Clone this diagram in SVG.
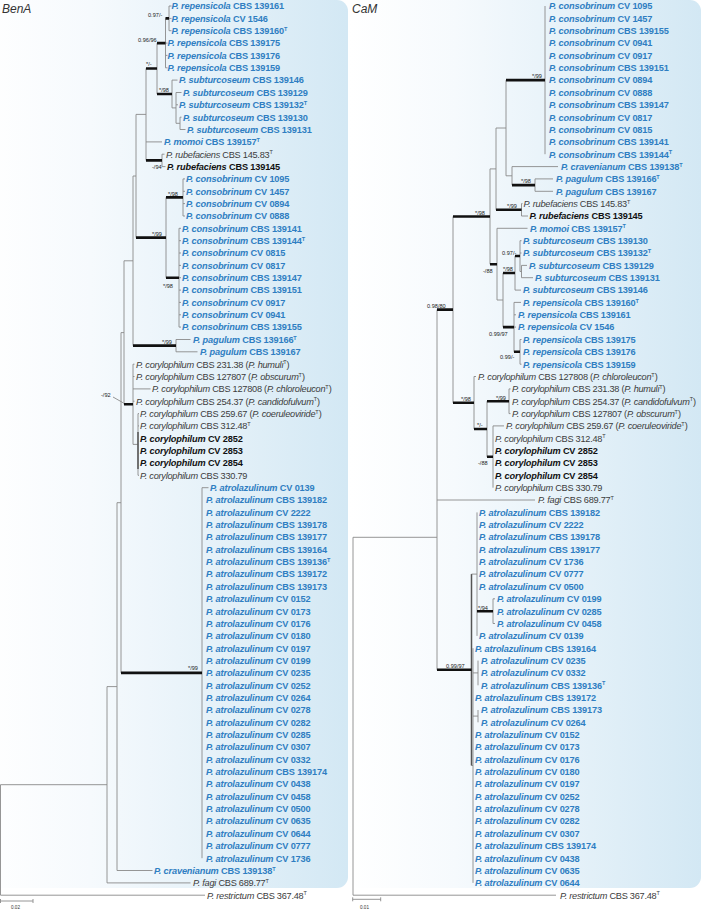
<svg xmlns="http://www.w3.org/2000/svg" width="701" height="909" viewBox="0 0 701 909">
<style>
text{font-family:"Liberation Sans",Arial,sans-serif;font-size:9.2px}
.b{font-weight:bold;fill:#2f7ec2;letter-spacing:-0.15px}
.k{font-weight:bold;fill:#111;letter-spacing:-0.15px}
.r{fill:#3c3c3c;letter-spacing:-0.25px}
.i{font-style:italic}
.t{font-size:5.5px;letter-spacing:0}
.sl{font-size:5.6px;fill:#222}
.ttl{font-size:12px;font-style:italic;fill:#333}
.sc{font-size:4.6px;fill:#333}
.ln{fill:none;stroke:#8a8a8a;stroke-width:0.9}
.dk{fill:none;stroke:#555;stroke-width:1.5}
.tk{fill:none;stroke:#111;stroke-width:2.6}
</style>
<defs>
<linearGradient id="bg" x1="0" y1="0" x2="1" y2="0">
<stop offset="0" stop-color="#ffffff"/>
<stop offset="0.3" stop-color="#f6fafd"/>
<stop offset="1" stop-color="#d3e8f4"/>
</linearGradient>
</defs>
<g id="panels">
<rect x="-20" y="0" width="368" height="888" rx="11" fill="url(#bg)"/>
<rect x="349" y="0" width="352" height="888" rx="11" fill="url(#bg)"/>
</g>
<text class="ttl" x="2" y="13">BenA</text>
<text class="ttl" x="352" y="13">CaM</text>

<g id="connectors-BenA">
<path class="ln" d="M169 6V30.7M169 6H171.5M169 18.4H171.5M169 30.7H171.5M165.5 18.4V67.8M165.5 43.1H167.5M165.5 55.4H167.5M165.5 67.8H167.5M172 80.1V107.9M172 80.1H177.5M172 107.9H176M176 92.5V123.3M176 92.5H181.5M176 104.8H178M176 123.3H180M180 117.2V129.5M180 117.2H181.5M180 129.5H185.5M157 43.1V94M146 68.5V160.4M146 141.9H162M162 154.2V166.6M162 154.2H164.5M162 166.6H165.5M136 114.4H146M183 178.9V216M183 178.9H185M183 191.3H185M183 203.6H185M183 216H185M179 228.3V327.1M179 228.3H181M179 240.7H181M179 253H181M179 265.4H181M179 277.7H181M179 290.1H181M179 302.4H181M179 314.8H181M179 327.1H181M166 197.4V277.7M136 114.4V237.6M133 176H136M176 339.5V351.8M176 339.5H190.5M176 351.8H197.5M133 176V345.6M124 260.8H133M133 364.2V444.4M133 364.2H134.5M133 376.5H134.5M133 388.9H150.5M133 401.2H134.5M133 444.4H138M138 413.6V475.3M138 413.6H139M138 425.9H139M138 475.3H139M124 260.8V404.3M121 332.6H124M121 332.6V672.9M117 502.7H121M202 487.7V858.2M202 487.7H208.5M117 502.7V870.5M117 870.5H152.5M107 686.6H117M107 686.6V882.9M107 882.9H190.5M0.5 784.7H107M0.5 784.7V895.2M0.5 895.2H205"/>
<path class="dk" d="M138 432V469"/>
<path class="tk" d="M165.5 18.4H169M157 43.1H165.5M157 94H172M146 68.5H157M146 160.4H162M166 197.4H183M166 277.7H179M136 237.6H166M133 345.6H176M124 404.3H133M121 672.9H202"/>
<path class="ln" d="M113 397L123.5 403"/>
<path class="ln" d="M0.5 901H33M0.5 899V903M33 899V903"/>
</g>

<g id="connectors-CaM">
<path class="ln" d="M545 6V154.2M512 166.6V185.1M512 166.6H558M506 175.8H512M535 178.9V191.3M535 178.9H553M535 191.3H553M506 80.1V175.8M496 128H506M521.5 203.6V216M521.5 203.6H522.5M521.5 216H528M496 128V209.8M490 168.9H496M497 228.3V300M497 228.3H527.5M497 300H503M503 273V327.1M515 256V290.1M515 290.1H521M520 240.7V271.5M520 240.7H521.5M520 253H521.5M520 271.5H521.5M521.5 265.4V277.7M521.5 265.4H527M521.5 277.7H533M514 302.4V351.8M514 302.4H521M514 314.8H516M514 327.1H516M520 339.5V364.2M520 339.5H521.5M520 364.2H521.5M490 168.9V264.2M474 376.5V429M474 376.5H476M487 401.2V456.8M509 388.9V413.6M509 388.9H510.5M509 413.6H510.5M493 425.9V487.7M493 425.9H504M453 216.5V402.8M437 309.6V669.8M437 500H535M353 537.3H437M353 537.3V895.2M353 895.2H556M477 512.4V635.9M471.5 574.1H477M493 598.8V623.5M493 598.8H495M493 623.5H495M473 648.2V882.9M471.5 765.5H473M478 660.6V685.3M473 672.9H478M478 710V722.3M473 716.1H478"/>
<path class="dk" d="M471.5 574.1V765.5"/>
<path class="tk" d="M506 80.1H545M512 185.1H535M496 209.8H521.5M515 256H520M503 273H515M514 351.8H520M503 327.1H514M490 264.2H497M453 216.5H490M487 401.2H509M487 456.8H493M474 429H487M453 402.8H474M437 309.6H453M477 611.2H493M437 669.8H471.5"/>
<path class="ln" d="M352.7 899.3H380.7M352.7 897.3V901.3M380.7 897.3V901.3"/>
</g>

<g id="scale-labels">
<text class="sc" x="11" y="908.5">0.02</text>
<text class="sc" x="360" y="908.5">0.01</text>
</g>

<g id="support-BenA">
<g id="s-b1"><text class="sl" x="148" y="17">0.97/-</text></g>
<g id="s-b2"><text class="sl" x="138" y="41.5">0.96/96</text></g>
<g id="s-b3"><text class="sl" x="146" y="66">*/-</text></g>
<g id="s-b4"><text class="sl" x="159" y="92">*/98</text></g>
<g id="s-b5"><text class="sl" x="152" y="169">-/94</text></g>
<g id="s-b6"><text class="sl" x="168" y="196">*/98</text></g>
<g id="s-b7"><text class="sl" x="152" y="236">*/99</text></g>
<g id="s-b8"><text class="sl" x="163" y="288">*/98</text></g>
<g id="s-b9"><text class="sl" x="162" y="344">*/99</text></g>
<g id="s-b10"><text class="sl" x="101" y="397">-/92</text></g>
<g id="s-b11"><text class="sl" x="188" y="670">*/99</text></g>
</g>

<g id="support-CaM">
<g id="s-c1"><text class="sl" x="532" y="78">*/99</text></g>
<g id="s-c2"><text class="sl" x="521" y="183">*/98</text></g>
<g id="s-c3"><text class="sl" x="507" y="207.5">*/99</text></g>
<g id="s-c4"><text class="sl" x="475" y="214.5">*/98</text></g>
<g id="s-c5"><text class="sl" x="502" y="254.5">0.97/-</text></g>
<g id="s-c6"><text class="sl" x="503" y="271">*/98</text></g>
<g id="s-c7"><text class="sl" x="483" y="273">-/88</text></g>
<g id="s-c8"><text class="sl" x="427" y="308">0.98/80</text></g>
<g id="s-c9"><text class="sl" x="489" y="336">0.99/97</text></g>
<g id="s-c10"><text class="sl" x="500" y="359">0.99/-</text></g>
<g id="s-c11"><text class="sl" x="461" y="400.5">*/98</text></g>
<g id="s-c12"><text class="sl" x="496" y="399.5">*/99</text></g>
<g id="s-c13"><text class="sl" x="477" y="427">*/-</text></g>
<g id="s-c14"><text class="sl" x="478" y="465">-/88</text></g>
<g id="s-c15"><text class="sl" x="478" y="609.5">*/94</text></g>
<g id="s-c16"><text class="sl" x="446" y="667.5">0.99/97</text></g>
</g>

<g id="taxa-BenA">
<g id="b1"><text class="b" x="171.5" y="9.3"><tspan class="i">P. repensicola</tspan> CBS 139161</text></g>
<g id="b2"><text class="b" x="171.5" y="21.7"><tspan class="i">P. repensicola</tspan> CV 1546</text></g>
<g id="b3"><text class="b" x="171.5" y="34"><tspan class="i">P. repensicola</tspan> CBS 139160<tspan class="t" dy="-3.2">T</tspan></text></g>
<g id="b4"><text class="b" x="167.5" y="46.4"><tspan class="i">P. repensicola</tspan> CBS 139175</text></g>
<g id="b5"><text class="b" x="167.5" y="58.7"><tspan class="i">P. repensicola</tspan> CBS 139176</text></g>
<g id="b6"><text class="b" x="167.5" y="71.1"><tspan class="i">P. repensicola</tspan> CBS 139159</text></g>
<g id="b7"><text class="b" x="179" y="83.4"><tspan class="i">P. subturcoseum</tspan> CBS 139146</text></g>
<g id="b8"><text class="b" x="183" y="95.8"><tspan class="i">P. subturcoseum</tspan> CBS 139129</text></g>
<g id="b9"><text class="b" x="179" y="108.1"><tspan class="i">P. subturcoseum</tspan> CBS 139132<tspan class="t" dy="-3.2">T</tspan></text></g>
<g id="b10"><text class="b" x="183" y="120.5"><tspan class="i">P. subturcoseum</tspan> CBS 139130</text></g>
<g id="b11"><text class="b" x="187" y="132.8"><tspan class="i">P. subturcoseum</tspan> CBS 139131</text></g>
<g id="b12"><text class="b" x="164" y="145.2"><tspan class="i">P. momoi</tspan> CBS 139157<tspan class="t" dy="-3.2">T</tspan></text></g>
<g id="b13"><text class="r" x="166" y="157.5"><tspan class="i">P. rubefaciens</tspan> CBS 145.83<tspan class="t" dy="-3.2">T</tspan></text></g>
<g id="b14"><text class="k" x="167" y="169.9"><tspan class="i">P. rubefaciens</tspan> CBS 139145</text></g>
<g id="b15"><text class="b" x="186" y="182.2"><tspan class="i">P. consobrinum</tspan> CV 1095</text></g>
<g id="b16"><text class="b" x="186" y="194.6"><tspan class="i">P. consobrinum</tspan> CV 1457</text></g>
<g id="b17"><text class="b" x="186" y="206.9"><tspan class="i">P. consobrinum</tspan> CV 0894</text></g>
<g id="b18"><text class="b" x="186" y="219.3"><tspan class="i">P. consobrinum</tspan> CV 0888</text></g>
<g id="b19"><text class="b" x="182" y="231.6"><tspan class="i">P. consobrinum</tspan> CBS 139141</text></g>
<g id="b20"><text class="b" x="182" y="244"><tspan class="i">P. consobrinum</tspan> CBS 139144<tspan class="t" dy="-3.2">T</tspan></text></g>
<g id="b21"><text class="b" x="182" y="256.3"><tspan class="i">P. consobrinum</tspan> CV 0815</text></g>
<g id="b22"><text class="b" x="182" y="268.7"><tspan class="i">P. consobrinum</tspan> CV 0817</text></g>
<g id="b23"><text class="b" x="182" y="281"><tspan class="i">P. consobrinum</tspan> CBS 139147</text></g>
<g id="b24"><text class="b" x="182" y="293.4"><tspan class="i">P. consobrinum</tspan> CBS 139151</text></g>
<g id="b25"><text class="b" x="182" y="305.7"><tspan class="i">P. consobrinum</tspan> CV 0917</text></g>
<g id="b26"><text class="b" x="182" y="318.1"><tspan class="i">P. consobrinum</tspan> CV 0941</text></g>
<g id="b27"><text class="b" x="182" y="330.4"><tspan class="i">P. consobrinum</tspan> CBS 139155</text></g>
<g id="b28"><text class="b" x="193" y="342.8"><tspan class="i">P. pagulum</tspan> CBS 139166<tspan class="t" dy="-3.2">T</tspan></text></g>
<g id="b29"><text class="b" x="200" y="355.1"><tspan class="i">P. pagulum</tspan> CBS 139167</text></g>
<g id="b30"><text class="r" x="136" y="367.5"><tspan class="i">P. corylophilum</tspan> CBS 231.38 (<tspan class="i">P. humuli</tspan><tspan class="t" dy="-3.2">T</tspan><tspan dy="3.2">)</tspan></text></g>
<g id="b31"><text class="r" x="136" y="379.8"><tspan class="i">P. corylophilum</tspan> CBS 127807 (<tspan class="i">P. obscurum</tspan><tspan class="t" dy="-3.2">T</tspan><tspan dy="3.2">)</tspan></text></g>
<g id="b32"><text class="r" x="152" y="392.2"><tspan class="i">P. corylophilum</tspan> CBS 127808 (<tspan class="i">P. chloroleucon</tspan><tspan class="t" dy="-3.2">T</tspan><tspan dy="3.2">)</tspan></text></g>
<g id="b33"><text class="r" x="136" y="404.5"><tspan class="i">P. corylophilum</tspan> CBS 254.37 (<tspan class="i">P. candidofulvum</tspan><tspan class="t" dy="-3.2">T</tspan><tspan dy="3.2">)</tspan></text></g>
<g id="b34"><text class="r" x="140" y="416.9"><tspan class="i">P. corylophilum</tspan> CBS 259.67 (<tspan class="i">P. coeruleoviride</tspan><tspan class="t" dy="-3.2">T</tspan><tspan dy="3.2">)</tspan></text></g>
<g id="b35"><text class="r" x="140" y="429.2"><tspan class="i">P. corylophilum</tspan> CBS 312.48<tspan class="t" dy="-3.2">T</tspan></text></g>
<g id="b36"><text class="k" x="140" y="441.6"><tspan class="i">P. corylophilum</tspan> CV 2852</text></g>
<g id="b37"><text class="k" x="140" y="453.9"><tspan class="i">P. corylophilum</tspan> CV 2853</text></g>
<g id="b38"><text class="k" x="140" y="466.3"><tspan class="i">P. corylophilum</tspan> CV 2854</text></g>
<g id="b39"><text class="r" x="140" y="478.6"><tspan class="i">P. corylophilum</tspan> CBS 330.79</text></g>
<g id="b40"><text class="b" x="210" y="491"><tspan class="i">P. atrolazulinum</tspan> CV 0139</text></g>
<g id="b41"><text class="b" x="206" y="503.3"><tspan class="i">P. atrolazulinum</tspan> CBS 139182</text></g>
<g id="b42"><text class="b" x="206" y="515.7"><tspan class="i">P. atrolazulinum</tspan> CV 2222</text></g>
<g id="b43"><text class="b" x="206" y="528"><tspan class="i">P. atrolazulinum</tspan> CBS 139178</text></g>
<g id="b44"><text class="b" x="206" y="540.4"><tspan class="i">P. atrolazulinum</tspan> CBS 139177</text></g>
<g id="b45"><text class="b" x="206" y="552.7"><tspan class="i">P. atrolazulinum</tspan> CBS 139164</text></g>
<g id="b46"><text class="b" x="206" y="565.1"><tspan class="i">P. atrolazulinum</tspan> CBS 139136<tspan class="t" dy="-3.2">T</tspan></text></g>
<g id="b47"><text class="b" x="206" y="577.4"><tspan class="i">P. atrolazulinum</tspan> CBS 139172</text></g>
<g id="b48"><text class="b" x="206" y="589.8"><tspan class="i">P. atrolazulinum</tspan> CBS 139173</text></g>
<g id="b49"><text class="b" x="206" y="602.1"><tspan class="i">P. atrolazulinum</tspan> CV 0152</text></g>
<g id="b50"><text class="b" x="206" y="614.5"><tspan class="i">P. atrolazulinum</tspan> CV 0173</text></g>
<g id="b51"><text class="b" x="206" y="626.8"><tspan class="i">P. atrolazulinum</tspan> CV 0176</text></g>
<g id="b52"><text class="b" x="206" y="639.2"><tspan class="i">P. atrolazulinum</tspan> CV 0180</text></g>
<g id="b53"><text class="b" x="206" y="651.5"><tspan class="i">P. atrolazulinum</tspan> CV 0197</text></g>
<g id="b54"><text class="b" x="206" y="663.9"><tspan class="i">P. atrolazulinum</tspan> CV 0199</text></g>
<g id="b55"><text class="b" x="206" y="676.2"><tspan class="i">P. atrolazulinum</tspan> CV 0235</text></g>
<g id="b56"><text class="b" x="206" y="688.6"><tspan class="i">P. atrolazulinum</tspan> CV 0252</text></g>
<g id="b57"><text class="b" x="206" y="700.9"><tspan class="i">P. atrolazulinum</tspan> CV 0264</text></g>
<g id="b58"><text class="b" x="206" y="713.3"><tspan class="i">P. atrolazulinum</tspan> CV 0278</text></g>
<g id="b59"><text class="b" x="206" y="725.6"><tspan class="i">P. atrolazulinum</tspan> CV 0282</text></g>
<g id="b60"><text class="b" x="206" y="738"><tspan class="i">P. atrolazulinum</tspan> CV 0285</text></g>
<g id="b61"><text class="b" x="206" y="750.3"><tspan class="i">P. atrolazulinum</tspan> CV 0307</text></g>
<g id="b62"><text class="b" x="206" y="762.7"><tspan class="i">P. atrolazulinum</tspan> CV 0332</text></g>
<g id="b63"><text class="b" x="206" y="775"><tspan class="i">P. atrolazulinum</tspan> CBS 139174</text></g>
<g id="b64"><text class="b" x="206" y="787.4"><tspan class="i">P. atrolazulinum</tspan> CV 0438</text></g>
<g id="b65"><text class="b" x="206" y="799.7"><tspan class="i">P. atrolazulinum</tspan> CV 0458</text></g>
<g id="b66"><text class="b" x="206" y="812.1"><tspan class="i">P. atrolazulinum</tspan> CV 0500</text></g>
<g id="b67"><text class="b" x="206" y="824.4"><tspan class="i">P. atrolazulinum</tspan> CV 0635</text></g>
<g id="b68"><text class="b" x="206" y="836.8"><tspan class="i">P. atrolazulinum</tspan> CV 0644</text></g>
<g id="b69"><text class="b" x="206" y="849.1"><tspan class="i">P. atrolazulinum</tspan> CV 0777</text></g>
<g id="b70"><text class="b" x="206" y="861.5"><tspan class="i">P. atrolazulinum</tspan> CV 1736</text></g>
<g id="b71"><text class="b" x="154" y="873.8"><tspan class="i">P. cravenianum</tspan> CBS 139138<tspan class="t" dy="-3.2">T</tspan></text></g>
<g id="b72"><text class="r" x="193" y="886.2"><tspan class="i">P. fagi</tspan> CBS 689.77<tspan class="t" dy="-3.2">T</tspan></text></g>
<g id="b73"><text class="r" x="207" y="898.5"><tspan class="i">P. restrictum</tspan> CBS 367.48<tspan class="t" dy="-3.2">T</tspan></text></g>
</g>

<g id="taxa-CaM">
<g id="c1"><text class="b" x="549" y="9.3"><tspan class="i">P. consobrinum</tspan> CV 1095</text></g>
<g id="c2"><text class="b" x="549" y="21.7"><tspan class="i">P. consobrinum</tspan> CV 1457</text></g>
<g id="c3"><text class="b" x="549" y="34"><tspan class="i">P. consobrinum</tspan> CBS 139155</text></g>
<g id="c4"><text class="b" x="549" y="46.4"><tspan class="i">P. consobrinum</tspan> CV 0941</text></g>
<g id="c5"><text class="b" x="549" y="58.7"><tspan class="i">P. consobrinum</tspan> CV 0917</text></g>
<g id="c6"><text class="b" x="549" y="71.1"><tspan class="i">P. consobrinum</tspan> CBS 139151</text></g>
<g id="c7"><text class="b" x="549" y="83.4"><tspan class="i">P. consobrinum</tspan> CV 0894</text></g>
<g id="c8"><text class="b" x="549" y="95.8"><tspan class="i">P. consobrinum</tspan> CV 0888</text></g>
<g id="c9"><text class="b" x="549" y="108.1"><tspan class="i">P. consobrinum</tspan> CBS 139147</text></g>
<g id="c10"><text class="b" x="549" y="120.5"><tspan class="i">P. consobrinum</tspan> CV 0817</text></g>
<g id="c11"><text class="b" x="549" y="132.8"><tspan class="i">P. consobrinum</tspan> CV 0815</text></g>
<g id="c12"><text class="b" x="549" y="145.2"><tspan class="i">P. consobrinum</tspan> CBS 139141</text></g>
<g id="c13"><text class="b" x="549" y="157.5"><tspan class="i">P. consobrinum</tspan> CBS 139144<tspan class="t" dy="-3.2">T</tspan></text></g>
<g id="c14"><text class="b" x="561" y="169.9"><tspan class="i">P. cravenianum</tspan> CBS 139138<tspan class="t" dy="-3.2">T</tspan></text></g>
<g id="c15"><text class="b" x="556" y="182.2"><tspan class="i">P. pagulum</tspan> CBS 139166<tspan class="t" dy="-3.2">T</tspan></text></g>
<g id="c16"><text class="b" x="556" y="194.6"><tspan class="i">P. pagulum</tspan> CBS 139167</text></g>
<g id="c17"><text class="r" x="523.5" y="206.9"><tspan class="i">P. rubefaciens</tspan> CBS 145.83<tspan class="t" dy="-3.2">T</tspan></text></g>
<g id="c18"><text class="k" x="529.5" y="219.3"><tspan class="i">P. rubefaciens</tspan> CBS 139145</text></g>
<g id="c19"><text class="b" x="530" y="231.6"><tspan class="i">P. momoi</tspan> CBS 139157<tspan class="t" dy="-3.2">T</tspan></text></g>
<g id="c20"><text class="b" x="523" y="244"><tspan class="i">P. subturcoseum</tspan> CBS 139130</text></g>
<g id="c21"><text class="b" x="523" y="256.3"><tspan class="i">P. subturcoseum</tspan> CBS 139132<tspan class="t" dy="-3.2">T</tspan></text></g>
<g id="c22"><text class="b" x="529" y="268.7"><tspan class="i">P. subturcoseum</tspan> CBS 139129</text></g>
<g id="c23"><text class="b" x="535" y="281"><tspan class="i">P. subturcoseum</tspan> CBS 139131</text></g>
<g id="c24"><text class="b" x="523" y="293.4"><tspan class="i">P. subturcoseum</tspan> CBS 139146</text></g>
<g id="c25"><text class="b" x="523" y="305.7"><tspan class="i">P. repensicola</tspan> CBS 139160<tspan class="t" dy="-3.2">T</tspan></text></g>
<g id="c26"><text class="b" x="518" y="318.1"><tspan class="i">P. repensicola</tspan> CBS 139161</text></g>
<g id="c27"><text class="b" x="518" y="330.4"><tspan class="i">P. repensicola</tspan> CV 1546</text></g>
<g id="c28"><text class="b" x="523" y="342.8"><tspan class="i">P. repensicola</tspan> CBS 139175</text></g>
<g id="c29"><text class="b" x="523" y="355.1"><tspan class="i">P. repensicola</tspan> CBS 139176</text></g>
<g id="c30"><text class="b" x="523" y="367.5"><tspan class="i">P. repensicola</tspan> CBS 139159</text></g>
<g id="c31"><text class="r" x="478" y="379.8"><tspan class="i">P. corylophilum</tspan> CBS 127808 (<tspan class="i">P. chloroleucon</tspan><tspan class="t" dy="-3.2">T</tspan><tspan dy="3.2">)</tspan></text></g>
<g id="c32"><text class="r" x="512" y="392.2"><tspan class="i">P. corylophilum</tspan> CBS 231.38 (<tspan class="i">P. humuli</tspan><tspan class="t" dy="-3.2">T</tspan><tspan dy="3.2">)</tspan></text></g>
<g id="c33"><text class="r" x="512" y="404.5"><tspan class="i">P. corylophilum</tspan> CBS 254.37 (<tspan class="i">P. candidofulvum</tspan><tspan class="t" dy="-3.2">T</tspan><tspan dy="3.2">)</tspan></text></g>
<g id="c34"><text class="r" x="512" y="416.9"><tspan class="i">P. corylophilum</tspan> CBS 127807 (<tspan class="i">P. obscurum</tspan><tspan class="t" dy="-3.2">T</tspan><tspan dy="3.2">)</tspan></text></g>
<g id="c35"><text class="r" x="506" y="429.2"><tspan class="i">P. corylophilum</tspan> CBS 259.67 (<tspan class="i">P. coeruleoviride</tspan><tspan class="t" dy="-3.2">T</tspan><tspan dy="3.2">)</tspan></text></g>
<g id="c36"><text class="r" x="495" y="441.6"><tspan class="i">P. corylophilum</tspan> CBS 312.48<tspan class="t" dy="-3.2">T</tspan></text></g>
<g id="c37"><text class="k" x="495" y="453.9"><tspan class="i">P. corylophilum</tspan> CV 2852</text></g>
<g id="c38"><text class="k" x="495" y="466.3"><tspan class="i">P. corylophilum</tspan> CV 2853</text></g>
<g id="c39"><text class="k" x="495" y="478.6"><tspan class="i">P. corylophilum</tspan> CV 2854</text></g>
<g id="c40"><text class="r" x="495" y="491"><tspan class="i">P. corylophilum</tspan> CBS 330.79</text></g>
<g id="c41"><text class="r" x="538" y="503.3"><tspan class="i">P. fagi</tspan> CBS 689.77<tspan class="t" dy="-3.2">T</tspan></text></g>
<g id="c42"><text class="b" x="479" y="515.7"><tspan class="i">P. atrolazulinum</tspan> CBS 139182</text></g>
<g id="c43"><text class="b" x="479" y="528"><tspan class="i">P. atrolazulinum</tspan> CV 2222</text></g>
<g id="c44"><text class="b" x="479" y="540.4"><tspan class="i">P. atrolazulinum</tspan> CBS 139178</text></g>
<g id="c45"><text class="b" x="479" y="552.7"><tspan class="i">P. atrolazulinum</tspan> CBS 139177</text></g>
<g id="c46"><text class="b" x="479" y="565.1"><tspan class="i">P. atrolazulinum</tspan> CV 1736</text></g>
<g id="c47"><text class="b" x="479" y="577.4"><tspan class="i">P. atrolazulinum</tspan> CV 0777</text></g>
<g id="c48"><text class="b" x="479" y="589.8"><tspan class="i">P. atrolazulinum</tspan> CV 0500</text></g>
<g id="c49"><text class="b" x="497" y="602.1"><tspan class="i">P. atrolazulinum</tspan> CV 0199</text></g>
<g id="c50"><text class="b" x="497" y="614.5"><tspan class="i">P. atrolazulinum</tspan> CV 0285</text></g>
<g id="c51"><text class="b" x="497" y="626.8"><tspan class="i">P. atrolazulinum</tspan> CV 0458</text></g>
<g id="c52"><text class="b" x="479" y="639.2"><tspan class="i">P. atrolazulinum</tspan> CV 0139</text></g>
<g id="c53"><text class="b" x="475" y="651.5"><tspan class="i">P. atrolazulinum</tspan> CBS 139164</text></g>
<g id="c54"><text class="b" x="481" y="663.9"><tspan class="i">P. atrolazulinum</tspan> CV 0235</text></g>
<g id="c55"><text class="b" x="481" y="676.2"><tspan class="i">P. atrolazulinum</tspan> CV 0332</text></g>
<g id="c56"><text class="b" x="481" y="688.6"><tspan class="i">P. atrolazulinum</tspan> CBS 139136<tspan class="t" dy="-3.2">T</tspan></text></g>
<g id="c57"><text class="b" x="475" y="700.9"><tspan class="i">P. atrolazulinum</tspan> CBS 139172</text></g>
<g id="c58"><text class="b" x="481" y="713.3"><tspan class="i">P. atrolazulinum</tspan> CBS 139173</text></g>
<g id="c59"><text class="b" x="481" y="725.6"><tspan class="i">P. atrolazulinum</tspan> CV 0264</text></g>
<g id="c60"><text class="b" x="475" y="738"><tspan class="i">P. atrolazulinum</tspan> CV 0152</text></g>
<g id="c61"><text class="b" x="475" y="750.3"><tspan class="i">P. atrolazulinum</tspan> CV 0173</text></g>
<g id="c62"><text class="b" x="475" y="762.7"><tspan class="i">P. atrolazulinum</tspan> CV 0176</text></g>
<g id="c63"><text class="b" x="475" y="775"><tspan class="i">P. atrolazulinum</tspan> CV 0180</text></g>
<g id="c64"><text class="b" x="475" y="787.4"><tspan class="i">P. atrolazulinum</tspan> CV 0197</text></g>
<g id="c65"><text class="b" x="475" y="799.7"><tspan class="i">P. atrolazulinum</tspan> CV 0252</text></g>
<g id="c66"><text class="b" x="475" y="812.1"><tspan class="i">P. atrolazulinum</tspan> CV 0278</text></g>
<g id="c67"><text class="b" x="475" y="824.4"><tspan class="i">P. atrolazulinum</tspan> CV 0282</text></g>
<g id="c68"><text class="b" x="475" y="836.8"><tspan class="i">P. atrolazulinum</tspan> CV 0307</text></g>
<g id="c69"><text class="b" x="475" y="849.1"><tspan class="i">P. atrolazulinum</tspan> CBS 139174</text></g>
<g id="c70"><text class="b" x="475" y="861.5"><tspan class="i">P. atrolazulinum</tspan> CV 0438</text></g>
<g id="c71"><text class="b" x="475" y="873.8"><tspan class="i">P. atrolazulinum</tspan> CV 0635</text></g>
<g id="c72"><text class="b" x="475" y="886.2"><tspan class="i">P. atrolazulinum</tspan> CV 0644</text></g>
<g id="c73"><text class="r" x="560" y="898.5"><tspan class="i">P. restrictum</tspan> CBS 367.48<tspan class="t" dy="-3.2">T</tspan></text></g>
</g>
</svg>
